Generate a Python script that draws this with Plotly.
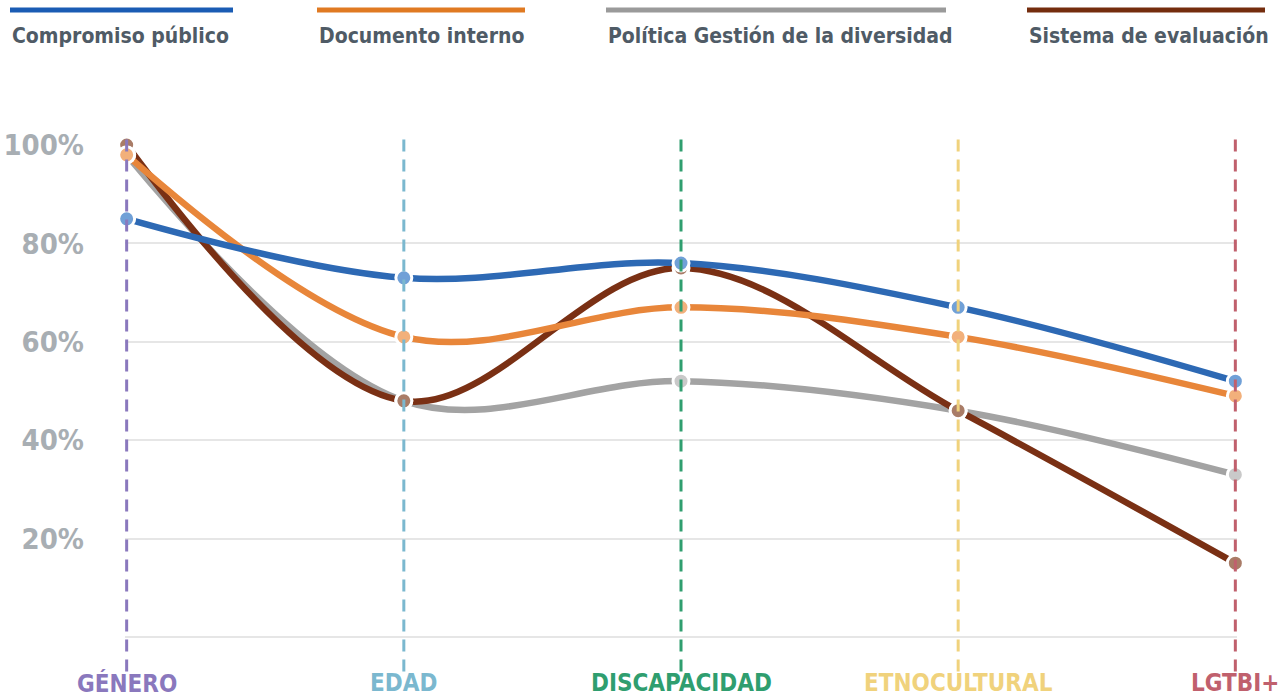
import plotly.graph_objects as go

# categories along the x axis
categories = ["GÉNERO", "EDAD", "DISCAPACIDAD", "ETNOCULTURAL", "LGTBI+"]
category_colors = ["#8a78bd", "#7bb8cf", "#2f9e6f", "#f0d27c", "#c0606d"]

# percentages
compromiso_publico = [85, 73, 76, 67, 52]
documento_interno = [98, 61, 67, 61, 49]
politica_gestion = [98, 48, 52, 46, 33]
sistema_evaluacion = [100, 48, 75, 46, 15]

series_names = ["Compromiso público", "Documento interno",
                "Política Gestión de la diversidad", "Sistema de evaluación"]
series_values = [compromiso_publico, documento_interno, politica_gestion, sistema_evaluacion]
line_colors = ["#2d69b4", "#e8863a", "#a3a3a3", "#7a3014"]
legend_colors = ["#1a5cb4", "#e07a22", "#9a9a9a", "#742d0e"]
marker_colors = ["#70a0d7", "#f2b07b", "#c9c9c9", "#a97c67"]

y_ticks = [20, 40, 60, 80, 100]

FONT = "DejaVu Sans Condensed"

fig = go.Figure()

x_idx = list(range(len(categories)))

# draw lines (gray and brown under the others)
for i in [2, 3, 1, 0]:
    fig.add_trace(go.Scatter(
        x=x_idx, y=series_values[i], mode="lines", name=series_names[i],
        line=dict(color=line_colors[i], width=6.5, shape="spline", smoothing=1.0),
        showlegend=False, cliponaxis=False, hoverinfo="skip",
    ))

for i in [2, 3, 1, 0]:
    fig.add_trace(go.Scatter(
        x=x_idx, y=series_values[i], mode="markers", name=series_names[i],
        marker=dict(color=marker_colors[i], size=16, line=dict(color="white", width=3)),
        showlegend=False, cliponaxis=False,
    ))

# dashed vertical guide per category, on top of everything
for i, c in enumerate(category_colors):
    fig.add_shape(type="line", xref="x", yref="paper", x0=i, x1=i, y0=-0.07, y1=1.02,
                  line=dict(color=c, width=3, dash="12px,8px"), layer="above")
    fig.add_annotation(x=i, xref="x", y=-0.094, yref="paper", text=categories[i],
                       showarrow=False, yanchor="middle",
                       font=dict(family=FONT, size=24, color=c, weight="bold"))

# custom legend across the top
legend_x = [10, 317, 606, 1027]
legend_x1 = [233, 525, 946, 1265]
for i in range(4):
    fig.add_shape(type="line", xref="paper", yref="paper",
                  x0=(legend_x[i] - 125) / 1112, x1=(legend_x1[i] - 125) / 1112,
                  y0=(637 - 10) / 492, y1=(637 - 10) / 492,
                  line=dict(color=legend_colors[i], width=5))
    fig.add_annotation(xref="paper", yref="paper",
                       x=(legend_x[i] - 125) / 1112, y=(637 - 36) / 492,
                       xanchor="left", yanchor="middle", showarrow=False,
                       text=series_names[i],
                       font=dict(family=FONT, size=21, color="#4f5b66", weight="bold"))

fig.update_layout(
    width=1280, height=698,
    margin=dict(l=125, r=43, t=145, b=61, autoexpand=False),
    plot_bgcolor="white", paper_bgcolor="white",
    showlegend=False,
    xaxis=dict(range=[-0.006, 4.006], showticklabels=False, showgrid=False, zeroline=False,
               showline=False, ticks="", automargin=False),
    yaxis=dict(range=[0, 100], tickvals=y_ticks, ticktext=[f"{v}%" for v in y_ticks],
               showgrid=True, gridcolor="#e6e6e6", gridwidth=1.5,
               zeroline=True, zerolinecolor="#e6e6e6", zerolinewidth=1.5,
               showline=False, ticks="", ticklabelstandoff=40, automargin=False,
               tickfont=dict(family=FONT, size=29, color="#a8aeb3", weight="bold")),
)

fig.write_html("out.html", config={"displayModeBar": False},
               post_script="document.body.style.margin='0';")
